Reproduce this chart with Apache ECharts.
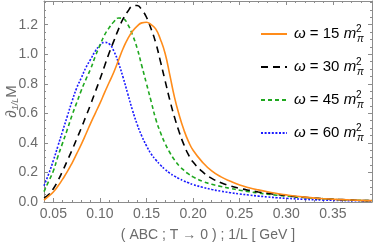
<!DOCTYPE html>
<html>
<head>
<meta charset="utf-8">
<script src="https://cdn.jsdelivr.net/npm/echarts@6/dist/echarts.min.js"></script>
<style>html,body{margin:0;padding:0;background:#fff;}#c{width:374px;height:243px;}</style>
</head>
<body>
<div id="c"></div>
<script>
const xValues = [0.04,0.045,0.05,0.055,0.06,0.065,0.07,0.075,0.08,0.085,0.09,0.095,0.10,0.105,0.11,0.115,0.12,0.125,0.13,0.135,0.14,0.145,0.15,0.155,0.16,0.165,0.17,0.175,0.18,0.185,0.19,0.195,0.20,0.21,0.22,0.23,0.24,0.25,0.26,0.27,0.28,0.29,0.30,0.32,0.34,0.36,0.38,0.392];
const omega15 = [0.013,0.04,0.068,0.108,0.155,0.205,0.262,0.325,0.39,0.46,0.532,0.60,0.667,0.74,0.81,0.88,0.96,1.04,1.105,1.155,1.19,1.212,1.216,1.20,1.17,1.10,1.005,0.86,0.71,0.59,0.49,0.41,0.35,0.27,0.21,0.17,0.14,0.115,0.097,0.082,0.069,0.058,0.048,0.033,0.022,0.016,0.011,0.009];
const omega30 = [0.028,0.05,0.09,0.145,0.21,0.28,0.35,0.425,0.50,0.58,0.66,0.745,0.83,0.92,1.01,1.09,1.17,1.24,1.29,1.325,1.33,1.30,1.25,1.17,1.075,0.95,0.82,0.69,0.575,0.475,0.39,0.32,0.27,0.205,0.16,0.13,0.108,0.092,0.079,0.068,0.059,0.05,0.043,0.031,0.022,0.016,0.011,0.009];
const omega45 = [0.07,0.14,0.21,0.31,0.40,0.49,0.585,0.67,0.755,0.83,0.90,0.985,1.06,1.13,1.18,1.22,1.245,1.24,1.20,1.13,1.04,0.92,0.80,0.68,0.56,0.47,0.395,0.335,0.285,0.245,0.215,0.19,0.17,0.14,0.12,0.105,0.092,0.08,0.07,0.061,0.053,0.046,0.04,0.03,0.022,0.015,0.011,0.009];
const omega60 = [0.11,0.19,0.28,0.38,0.48,0.58,0.68,0.77,0.84,0.91,0.965,1.02,1.06,1.08,1.07,1.02,0.94,0.84,0.73,0.62,0.525,0.445,0.38,0.325,0.285,0.25,0.22,0.195,0.175,0.158,0.143,0.13,0.118,0.10,0.085,0.073,0.063,0.054,0.047,0.04,0.034,0.029,0.025,0.018,0.013,0.01,0.008,0.007];
const omegaLabels = ['15','30','45','60'];
const xTickLabels = [0.05,0.10,0.15,0.20,0.25,0.30,0.35];
const yTickLabels = [0.0,0.2,0.4,0.6,0.8,1.0,1.2];

const X_MIN = 0.04, X_MAX = 0.392, Y_MIN = 0, Y_MAX = 1.36;
const xMinor = []; for (let i = 5; i <= 39; i++) xMinor.push(+(i/100).toFixed(2));
const yMinor = []; for (let i = 0; i <= 27; i++) yMinor.push(+(i*0.05).toFixed(2));

const FONT = 'Liberation Sans';
const frameColor = '#8c8c8c';
const labelColor = '#6b6b6b';

function xAxisDef(pos, major, showLabel) {
  return {
    type: 'value', position: pos, min: X_MIN, max: X_MAX,
    axisLine: {show: major, onZero: false, lineStyle: {color: frameColor, width: 1}},
    splitLine: {show: false},
    axisTick: {show: true, inside: true, length: major ? 4 : 2,
      customValues: major ? xTickLabels : xMinor, lineStyle: {color: frameColor}},
    axisLabel: {show: showLabel, customValues: xTickLabels, formatter: v => v.toFixed(2),
      color: labelColor, fontFamily: FONT, fontSize: 14, margin: 5}
  };
}
function yAxisDef(pos, major, showLabel) {
  return {
    type: 'value', position: pos, min: Y_MIN, max: Y_MAX,
    axisLine: {show: major, onZero: false, lineStyle: {color: frameColor, width: 1}},
    splitLine: {show: false},
    axisTick: {show: true, inside: true, length: major ? 4 : 2,
      customValues: major ? yTickLabels : yMinor, lineStyle: {color: frameColor}},
    axisLabel: {show: showLabel, customValues: yTickLabels, formatter: v => v.toFixed(1),
      color: labelColor, fontFamily: FONT, fontSize: 14, margin: 6}
  };
}

const xs = [xAxisDef('bottom', true, true), xAxisDef('top', true, false), xAxisDef('bottom', false, false), xAxisDef('top', false, false)];
xs[0].name = '( ABC ; T \u2192 0 ) ; 1/L [ GeV ]';
xs[0].nameLocation = 'middle';
xs[0].nameGap = 26;
xs[0].nameMoveOverlap = false;
xs[0].nameTextStyle = {color: labelColor, fontFamily: FONT, fontSize: 14};
const ys = [yAxisDef('left', true, true), yAxisDef('right', true, false), yAxisDef('left', false, false), yAxisDef('right', false, false)];
ys[0].name = '{d|\u2202}{s|1/L}{d|M}';
ys[0].nameLocation = 'middle';
ys[0].nameRotate = 90;
ys[0].nameGap = 24;
ys[0].nameMoveOverlap = false;
ys[0].nameTextStyle = {color: labelColor, fontFamily: FONT, fontSize: 14,
  rich: {d: {fontSize: 15, color: labelColor, fontFamily: FONT, lineHeight: 16, verticalAlign: 'middle'},
         s: {fontSize: 9, color: labelColor, fontFamily: FONT, fontStyle: 'italic', verticalAlign: 'bottom', lineHeight: 16}}};

function pairs(ys_) { return xValues.map((x, i) => [x, ys_[i]]); }
const seriesDefs = [
  {vals: omega15, color: '#ff8c1a', type: 'solid'},
  {vals: omega30, color: '#000000', type: [7, 5]},
  {vals: omega45, color: '#1fa81f', type: [4, 3]},
  {vals: omega60, color: '#1a1aff', type: [2, 1.6]}
];
const names = omegaLabels.map(o => '\u03c9 = ' + o);

const chart = echarts.init(document.getElementById('c'), null, {renderer: 'canvas'});
chart.setOption({
  animation: false,
  backgroundColor: '#fff',
  grid: {left: 44, right: 2, top: 1, bottom: 41, containLabel: false, outerBoundsMode: 'none'},
  xAxis: xs,
  yAxis: ys,
  legend: {
    orient: 'vertical', left: 255, top: 19, itemGap: 13,
    itemWidth: 26, itemHeight: 14,
    data: names,
    itemStyle: {opacity: 0},
    formatter: name => '{w|\u03c9} = ' + name.split(' = ')[1] + ' {m|m}{sup|2}{sub|\u03c0}',
    textStyle: {color: '#000', fontFamily: FONT, fontSize: 15, padding: [0,0,0,2],
      rich: {
        w: {fontStyle: 'italic', fontSize: 15, fontFamily: FONT, lineHeight: 20},
        m: {fontStyle: 'italic', fontSize: 15, fontFamily: FONT, lineHeight: 20},
        sup: {fontSize: 10, fontFamily: FONT, verticalAlign: 'top', lineHeight: 12, width: 1},
        sub: {fontSize: 10, fontStyle: 'italic', fontFamily: FONT, verticalAlign: 'bottom', lineHeight: 12}
      }}
  },
  series: seriesDefs.map((s, i) => ({
    name: names[i], type: 'line', smooth: true, showSymbol: false, symbol: 'none',
    xAxisIndex: 0, yAxisIndex: 0,
    data: pairs(s.vals),
    lineStyle: {color: s.color, width: 1.6, type: s.type},
    itemStyle: {color: s.color},
    z: 10 - i
  }))
});
</script>
</body>
</html>
